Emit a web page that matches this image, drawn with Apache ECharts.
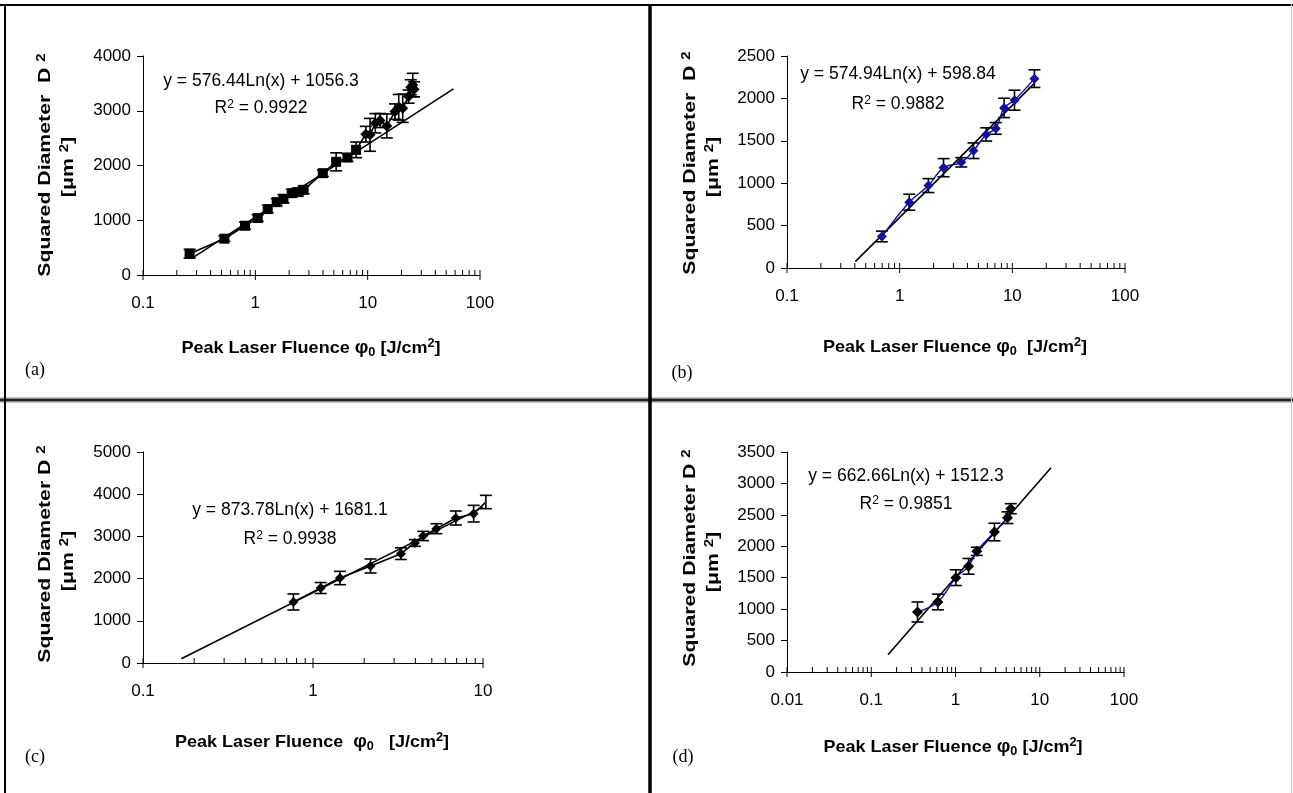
<!DOCTYPE html>
<html><head><meta charset="utf-8">
<script src="https://cdn.jsdelivr.net/npm/echarts@6/dist/echarts.min.js"></script>
<style>html,body{margin:0;padding:0;background:#fff}#c{width:1293px;height:793px}</style>
</head><body><div id="c"></div>
<script>
// ---------- Panel (a) ----------
const aX   = [0.26,0.53,0.81,1.05,1.29,1.55,1.78,2.11,2.39,2.69,3.99,5.24,6.61,7.89,9.63,10.5,11.7,12.9,14.8,17.5,18.9,20.5,23.1,24.2,25.2,25.9];
const aY   = [389,663,900,1040,1204,1331,1392,1495,1514,1556,1860,2067,2146,2286,2572,2560,2772,2821,2723,2985,3064,3046,3258,3429,3471,3392];
const aErr = [80,50,67,60,67,64,75,67,73,73,60,165,70,143,143,300,176,128,219,140,234,258,120,137,213,137];
const aTrendX = [0.27, 58];
const aTrendY = [300, 3400];
const aXTicks = [0.1, 1, 10, 100];
const aYTicks = [0, 1000, 2000, 3000, 4000];
// ---------- Panel (b) ----------
const bX   = [0.695,1.216,1.80,2.45,3.52,4.52,5.86,7.13,8.46,10.45,15.7];
const bY   = [372,776,972,1183,1246,1383,1575,1646,1888,1979,2233];
const bErr = [63,94,82,107,55,92,78,69,114,118,104];
const bTrendX = [0.404, 15.6];
const bTrendY = [75, 2175];
const bXTicks = [0.1, 1, 10, 100];
const bYTicks = [0, 500, 1000, 1500, 2000, 2500];
// ---------- Panel (c) ----------
const cX   = [0.767,1.11,1.44,2.18,3.29,3.97,4.44,5.32,6.92,8.81,10.4];
const cY   = [1446,1777,2014,2299,2591,2844,3010,3183,3436,3539,3815];
const cErr = [190,130,158,166,138,79,110,118,166,197,158];
const cTrendX = [0.168, 10];
const cTrendY = [100, 3693];
const cXTicks = [0.1, 1, 10];
const cYTicks = [0, 1000, 2000, 3000, 4000, 5000];
// ---------- Panel (d) ----------
const dX   = [0.354,0.618,1.01,1.43,1.79,2.90,4.14,4.53];
const dY   = [955,1114,1501,1681,1920,2227,2455,2598];
const dErr = [159,125,125,125,65,140,93,80];
const dTrendX = [0.158, 13.6];
const dTrendY = [276, 3250];
const dXTicks = [0.01, 0.1, 1, 10, 100];
const dYTicks = [0, 500, 1000, 1500, 2000, 2500, 3000, 3500];

const FONT = 'Liberation Sans, Arial, sans-serif';
const SERIF = 'Liberation Serif, Times New Roman, serif';
const BLUE = '#10109a';

const grids = [
  {left:143, top:56,  width:337, height:219},
  {left:787, top:56,  width:338, height:212},
  {left:143, top:452, width:340, height:211},
  {left:787, top:452, width:337, height:220}
];
const xt = [aXTicks,bXTicks,cXTicks,dXTicks];
const yt = [aYTicks,bYTicks,cYTicks,dYTicks];

function fmt(v){ return String(Number(v.toPrecision(6))); }

const xAxes = xt.map((t,i)=>({
  type:'log', logBase:10, gridIndex:i, min:t[0], max:t[t.length-1],
  axisLine:{show:true, onZero:false, lineStyle:{color:'#000', width:1}},
  axisTick:{show:false}, splitLine:{show:false}, minorTick:{show:false},
  axisLabel:{color:'#000', fontFamily:FONT, fontSize:17, margin:20, formatter:fmt, showMinLabel:true, showMaxLabel:true}
}));
const yAxes = yt.map((t,i)=>({
  type:'value', gridIndex:i, min:t[0], max:t[t.length-1], interval:t[1]-t[0],
  axisLine:{show:true, lineStyle:{color:'#000', width:1}},
  axisTick:{show:true, inside:false, length:6, lineStyle:{color:'#000'}},
  splitLine:{show:false},
  axisLabel:{color:'#000', fontFamily:FONT, fontSize:17, margin:12, formatter:v=>String(v)}
}));

function tickData(t){
  const out = [];
  for (let k=0;k<t.length;k++){
    out.push([t[k],1]);
    if (k<t.length-1) for (let m=2;m<=9;m++) out.push([t[k]*m,0]);
  }
  return out;
}
function tickSeries(i){
  return {type:'custom', xAxisIndex:i, yAxisIndex:i, silent:true, z:5, clip:false,
    data: tickData(xt[i]).map(d=>[d[0], yt[i][0], d[1]]),
    renderItem(p, api){
      const c = api.coord([api.value(0), api.value(1)]);
      const major = api.value(2) === 1;
      return {type:'line', shape:{x1:c[0], y1:c[1]-5, x2:c[0], y2:c[1]+(major?5:0)},
        style:{stroke:'#000', lineWidth:1}};
    }};
}
function errSeries(i, xs, ys, es, cap){
  return {type:'custom', xAxisIndex:i, yAxisIndex:i, silent:true, z:3, clip:false,
    data: xs.map((x,k)=>[x, ys[k]-es[k], ys[k]+es[k]]),
    encode:{x:0, y:[1,2]},
    renderItem(p, api){
      const lo = api.coord([api.value(0), api.value(1)]);
      const hi = api.coord([api.value(0), api.value(2)]);
      const s = {stroke:'#000', lineWidth:1.6};
      return {type:'group', children:[
        {type:'line', shape:{x1:lo[0],y1:lo[1],x2:hi[0],y2:hi[1]}, style:s},
        {type:'line', shape:{x1:lo[0]-cap,y1:lo[1],x2:lo[0]+cap,y2:lo[1]}, style:s},
        {type:'line', shape:{x1:hi[0]-cap,y1:hi[1],x2:hi[0]+cap,y2:hi[1]}, style:s}
      ]};
    }};
}
function trendSeries(i, xs, ys){
  return {type:'line', xAxisIndex:i, yAxisIndex:i, silent:true, z:2, symbol:'none',
    data: xs.map((x,k)=>[x, ys[k]]), lineStyle:{color:'#000', width:1.6}};
}
function dataSeries(i, xs, ys, opts){
  return Object.assign({type:'line', xAxisIndex:i, yAxisIndex:i, silent:true, z:4,
    data: xs.map((x,k)=>[x, ys[k]]), showSymbol:true, symbolSize:10, symbol:'diamond',
    itemStyle:{color:'#000'}, lineStyle:{color:'#000', width:1.6}}, opts);
}

const series = [
  trendSeries(0, aTrendX, aTrendY),
  errSeries(0, aX, aY, aErr, 6),
  dataSeries(0, aX, aY, {data: aX.map((x,k)=>({value:[x,aY[k]], symbol: k<14?'rect':'diamond', symbolSize: k<14?10:11}))}),
  tickSeries(0),
  trendSeries(1, bTrendX, bTrendY),
  errSeries(1, bX, bY, bErr, 6),
  dataSeries(1, bX, bY, {smooth:0.35, symbolSize:10, itemStyle:{color:BLUE}, lineStyle:{color:BLUE, width:1.4}}),
  tickSeries(1),
  trendSeries(2, cTrendX, cTrendY),
  errSeries(2, cX, cY, cErr, 6),
  dataSeries(2, cX, cY, {}),
  tickSeries(2),
  trendSeries(3, dTrendX, dTrendY),
  errSeries(3, dX, dY, dErr, 6),
  dataSeries(3, dX, dY, {smooth:0.35, symbolSize:11, lineStyle:{color:BLUE, width:1.4}}),
  tickSeries(3)
];

const rich = {
  b:{fontFamily:FONT, fontSize:17, fontWeight:'bold', color:'#000'},
  bsup:{fontFamily:FONT, fontSize:12, fontWeight:'bold', color:'#000', verticalAlign:'top', padding:[0,0,6,0]},
  bsub:{fontFamily:FONT, fontSize:12, fontWeight:'bold', color:'#000', verticalAlign:'bottom', padding:[9,0,0,0]},
  phi:{fontFamily:FONT, fontSize:18, fontWeight:'bold', color:'#000'},
  n:{fontFamily:FONT, fontSize:17.5, color:'#000'},
  nsup:{fontFamily:FONT, fontSize:12, color:'#000', verticalAlign:'top', padding:[0,0,6,0]}
};
function txt(x, y, text, extra){
  return Object.assign({type:'text', x:x, y:y, z:10,
    style:{text:text, rich:rich, align:'center', verticalAlign:'middle', fontFamily:FONT, fontSize:17, fill:'#000'}}, extra||{});
}
function ytitle(x, y, t){ return txt(x, y, t, {rotation:Math.PI/2, scaleX:1.25}); }

const panels = [
  {eq:'y = 576.44Ln(x) + 1056.3', r:'0.9922', ex:261, ey:81, ry:108, tx:311, ty:348, xt:'{b|Peak Laser Fluence }{phi|φ}{bsub|0}{b| [J/cm}{bsup|2}{b|]}', lab:'(a)', lx:35, ly:370, yx:45, yy:165, ux:68, uy:167, yt:'{b|Squared Diameter  D }{bsup|2}'},
  {eq:'y = 574.94Ln(x) + 598.84', r:'0.9882', ex:898, ey:74, ry:104, tx:955, ty:347, xt:'{b|Peak Laser Fluence }{phi|φ}{bsub|0}{b|  [J/cm}{bsup|2}{b|]}', lab:'(b)', lx:682, ly:373, yx:690, yy:163, ux:713, uy:167, yt:'{b|Squared Diameter  D }{bsup|2}'},
  {eq:'y = 873.78Ln(x) + 1681.1', r:'0.9938', ex:290, ey:510, ry:539, tx:312, ty:742, xt:'{b|Peak Laser Fluence  }{phi|φ}{bsub|0}{b|   [J/cm}{bsup|2}{b|]}', lab:'(c)', lx:35, ly:757, yx:45, yy:554, ux:68, uy:561, yt:'{b|Squared Diameter D }{bsup|2}'},
  {eq:'y = 662.66Ln(x) + 1512.3', r:'0.9851', ex:906, ey:476, ry:504, tx:953, ty:747, xt:'{b|Peak Laser Fluence }{phi|φ}{bsub|0}{b| [J/cm}{bsup|2}{b|]}', lab:'(d)', lx:683, ly:757, yx:690, yy:558, ux:713, uy:562, yt:'{b|Squared Diameter D }{bsup|2}'}
];
const graphics = [];
panels.forEach(p=>{
  graphics.push(txt(p.ex, p.ey, '{n|'+p.eq+'}'));
  graphics.push(txt(p.ex, p.ry, '{n|R}{nsup|2}{n| = '+p.r+'}'));
  graphics.push(txt(p.tx, p.ty, p.xt, {scaleX:1.06}));
  graphics.push(txt(p.lx, p.ly, p.lab, {style:{text:p.lab, align:'center', verticalAlign:'middle', fontFamily:SERIF, fontSize:18, fill:'#000'}}));
  graphics.push(ytitle(p.yx, p.yy, p.yt));
  graphics.push(ytitle(p.ux, p.uy, '{b|[μm }{bsup|2}{b|]}'));
});
// frame
const L = (x1,y1,x2,y2,c,w)=>({type:'line', z:1, shape:{x1,y1,x2,y2}, style:{stroke:c, lineWidth:w}});
graphics.push(
  {type:'rect', z:1, shape:{x:0, y:397.5, width:1293, height:5}, style:{fill:'#8a8a8a'}},
  L(0,400,1293,400,'#000',1.6),
  L(0,5,1293,5,'#000',2),
  L(5,4,5,793,'#000',2),
  L(650,4,650,793,'#000',3.5),
  L(1291.5,4,1291.5,793,'#c8c8c8',1)
);

const chart = echarts.init(document.getElementById('c'), null, {renderer:'canvas'});
chart.setOption({
  animation:false, backgroundColor:'#fff',
  grid: grids.map(g=>Object.assign({containLabel:false}, g)),
  xAxis: xAxes, yAxis: yAxes, series: series, graphic: graphics
});
</script></body></html>
